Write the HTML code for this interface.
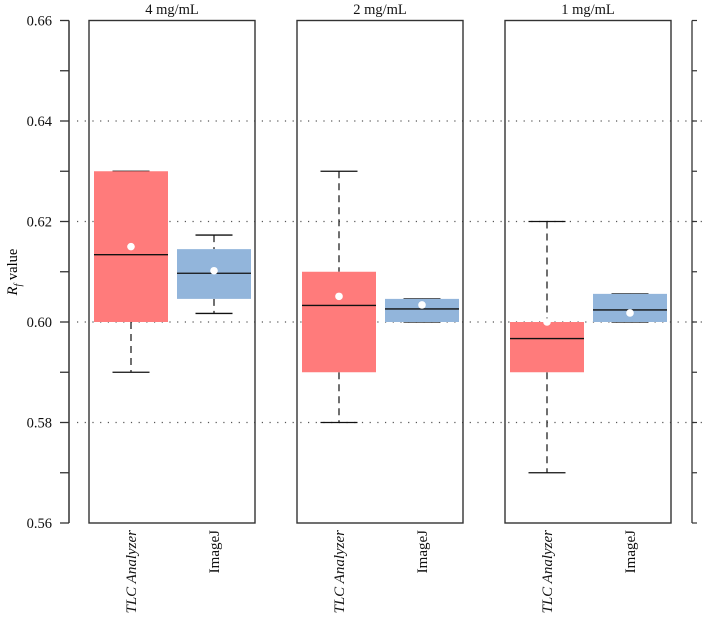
<!DOCTYPE html>
<html><head><meta charset="utf-8"><style>
html,body{margin:0;padding:0;background:#fff;}
svg{display:block;font-family:"Liberation Serif",serif;}
</style></head><body>
<svg id="chart" width="702" height="620" viewBox="0 0 702 620">
<g id="grid"></g>
<g id="yaxis"></g>
<g id="panels"></g>
<text x="0" y="0" transform="translate(17,272) rotate(-90)" text-anchor="middle" font-size="14.5"><tspan font-style="italic">R</tspan><tspan font-style="italic" font-size="10" dy="4">f</tspan><tspan dy="-4"> value</tspan></text>
</svg>
<script>
const panelTitles = ["4 mg/mL", "2 mg/mL", "1 mg/mL"];
const methods = ["TLC Analyzer", "ImageJ"];
// [low whisker, Q1, median, Q3, high whisker, mean]
const tlcStats = [
  [0.590, 0.600, 0.6134, 0.630, 0.630, 0.6150],
  [0.580, 0.590, 0.6033, 0.610, 0.630, 0.6051],
  [0.570, 0.590, 0.5967, 0.600, 0.620, 0.6000]
];
const imagejStats = [
  [0.6017, 0.6046, 0.6097, 0.6145, 0.6173, 0.6102],
  [0.600, 0.600, 0.6026, 0.6046, 0.6046, 0.6034],
  [0.600, 0.600, 0.6024, 0.6056, 0.6056, 0.6018]
];
const yTicks = [0.56, 0.58, 0.60, 0.62, 0.64, 0.66];
const yMinor = [0.57, 0.59, 0.61, 0.63, 0.65];
const gridVals = [0.58, 0.60, 0.62, 0.64];

const NS = "http://www.w3.org/2000/svg";
const yMin = 0.56, yMax = 0.66, yTop = 20.5, yBot = 523;
function y(v){ return yBot - (v - yMin) / (yMax - yMin) * (yBot - yTop); }
const panelX = [89, 297, 505], panelW = 166;
function mk(tag, attrs, parent){ const e=document.createElementNS(NS,tag); for(const k in attrs) e.setAttribute(k,attrs[k]); parent.appendChild(e); return e; }
const grid=document.getElementById('grid'), yax=document.getElementById('yaxis'), pg=document.getElementById('panels');

gridVals.forEach(v=>{
  const l=mk('line',{x1:77,x2:702,y1:y(v),y2:y(v),stroke:'#555','stroke-width':1.2,'stroke-dasharray':'1.2 6.5'},grid);
  
  
});
mk('line',{x1:69,x2:69,y1:y(yMax),y2:y(yMin),stroke:'#333','stroke-width':1.5},yax);
yTicks.forEach(v=>{
  mk('line',{x1:60,x2:69,y1:y(v),y2:y(v),stroke:'#333','stroke-width':1.3},yax);
  const t=mk('text',{x:52,y:y(v)+5,'text-anchor':'end','font-size':14.5,fill:'#111'},yax);
  t.textContent=v.toFixed(2);
  
  
});
yMinor.forEach(v=>{ mk('line',{x1:60,x2:69,y1:y(v),y2:y(v),stroke:'#333','stroke-width':1.3},yax); });
mk('line',{x1:692,x2:692,y1:y(yMax),y2:y(yMin),stroke:'#333','stroke-width':1.3},pg);
yTicks.concat(yMinor).forEach(v=>{ mk('line',{x1:692,x2:697,y1:y(v),y2:y(v),stroke:'#333','stroke-width':1.2},pg); });

function drawBox(g, cx, s, color, name){
  const bw=74, cw=37;
  const grp=mk('g',{},g);
  
  
  mk('line',{x1:cx,x2:cx,y1:y(s[4]),y2:y(s[3]),stroke:'#222','stroke-width':1.3,'stroke-dasharray':'7 5'},grp);
  mk('line',{x1:cx,x2:cx,y1:y(s[1]),y2:y(s[0]),stroke:'#222','stroke-width':1.3,'stroke-dasharray':'7 5'},grp);
  mk('line',{x1:cx-cw/2,x2:cx+cw/2,y1:y(s[4]),y2:y(s[4]),stroke:'#111','stroke-width':1.3},grp);
  mk('line',{x1:cx-cw/2,x2:cx+cw/2,y1:y(s[0]),y2:y(s[0]),stroke:'#111','stroke-width':1.3},grp);
  mk('rect',{x:cx-bw/2,y:y(s[3]),width:bw,height:Math.max(0.5,y(s[1])-y(s[3])),fill:color},grp);
  mk('line',{x1:cx-bw/2,x2:cx+bw/2,y1:y(s[2]),y2:y(s[2]),stroke:'#111','stroke-width':1.3},grp);
  mk('circle',{cx:cx,cy:y(s[5]),r:3.8,fill:'#fff'},grp);
}

panelTitles.forEach((title,i)=>{
  const x0=panelX[i];
  const g=mk('g',{},pg);
  
  
  mk('rect',{x:x0,y:y(yMax),width:panelW,height:y(yMin)-y(yMax),fill:'none',stroke:'#333','stroke-width':1.4},g);
  const t=mk('text',{x:x0+panelW/2,y:14,'text-anchor':'middle','font-size':14.5,fill:'#111'},g);
  t.textContent=title;
  
  
  drawBox(g, x0+42, tlcStats[i], '#ff7b7b', 'box-tlc-analyzer');
  drawBox(g, x0+125, imagejStats[i], '#92b5db', 'box-imagej');
  [42,125].forEach((dx,j)=>{
    const lx=x0+dx+5;
    const lt=mk('text',{x:0,y:0,transform:`translate(${lx},530) rotate(-90)`,'text-anchor':'end','font-size':15,fill:'#111','font-style':j===0?'italic':'normal'},g);
    lt.textContent=methods[j];
    
    
  });
});
</script>
</body></html>
